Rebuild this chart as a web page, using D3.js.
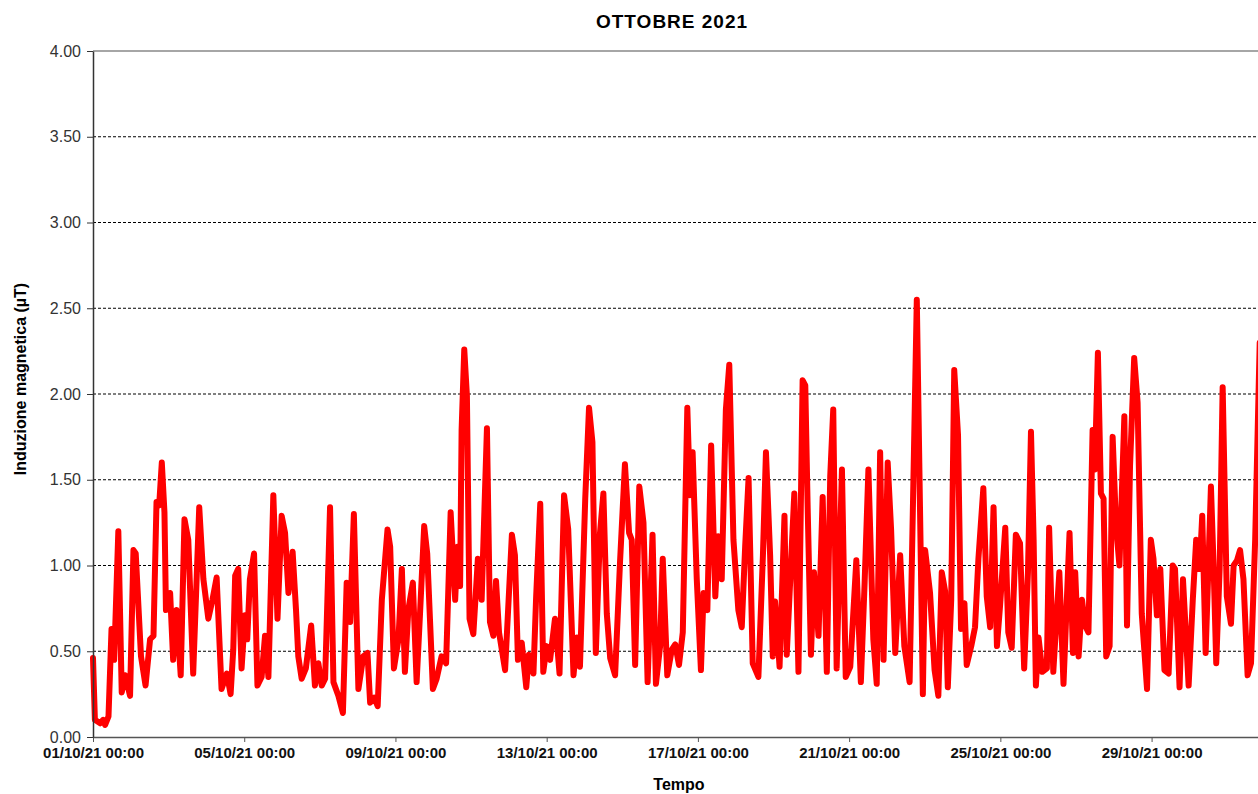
<!DOCTYPE html>
<html>
<head>
<meta charset="utf-8">
<script src="https://cdn.jsdelivr.net/npm/d3@7"></script>
<style>
  body { margin: 0; background: #fff; }
  text { font-family: "Liberation Sans", Arial, sans-serif; }
</style>
</head>
<body>
<div id="chart"></div>
<script>
// Time offsets in days since 01/10/21 00:00 and field values (µT)
const days = [
  0.00, 0.05, 0.19, 0.27, 0.32, 0.41, 0.49, 0.56, 0.67, 0.76, 0.85, 0.98, 1.07, 1.13, 1.27, 1.39,
  1.51, 1.60, 1.68, 1.75, 1.82, 1.89, 1.93, 2.04, 2.12, 2.21, 2.32, 2.42, 2.52, 2.65, 2.81, 2.92,
  3.05, 3.16, 3.27, 3.40, 3.54, 3.64, 3.71, 3.76, 3.84, 3.93, 4.02, 4.08, 4.15, 4.26, 4.35, 4.46,
  4.55, 4.64, 4.77, 4.88, 4.99, 5.08, 5.17, 5.28, 5.37, 5.43, 5.52, 5.63, 5.77, 5.87, 5.96, 6.05,
  6.14, 6.27, 6.36, 6.49, 6.61, 6.71, 6.80, 6.90, 7.02, 7.15, 7.26, 7.33, 7.44, 7.53, 7.64, 7.79,
  7.86, 7.96, 8.08, 8.17, 8.25, 8.34, 8.46, 8.56, 8.65, 8.76, 8.84, 8.99, 9.09, 9.22, 9.34, 9.46,
  9.58, 9.64, 9.71, 9.75, 9.82, 9.89, 9.96, 10.06, 10.18, 10.28, 10.42, 10.50, 10.59, 10.66, 10.74, 10.90,
  11.08, 11.16, 11.24, 11.34, 11.46, 11.53, 11.65, 11.72, 11.83, 11.91, 12.00, 12.09, 12.22, 12.34, 12.46, 12.57,
  12.71, 12.80, 12.88, 13.02, 13.12, 13.21, 13.30, 13.41, 13.50, 13.59, 13.68, 13.81, 13.94, 14.07, 14.18, 14.25,
  14.34, 14.45, 14.56, 14.67, 14.80, 14.89, 15.00, 15.07, 15.19, 15.31, 15.40, 15.50, 15.60, 15.72, 15.79, 15.86,
  15.97, 16.08, 16.15, 16.25, 16.35, 16.46, 16.54, 16.63, 16.74, 16.83, 16.94, 17.07, 17.16, 17.25, 17.34, 17.45,
  17.60, 17.72, 17.80, 17.91, 17.98, 18.04, 18.16, 18.29, 18.35, 18.46, 18.55, 18.66, 18.77, 18.84, 18.90, 18.99,
  19.07, 19.19, 19.30, 19.41, 19.50, 19.58, 19.67, 19.81, 19.91, 20.03, 20.19, 20.31, 20.41, 20.51, 20.64, 20.73,
  20.82, 20.91, 21.02, 21.11, 21.22, 21.35, 21.46, 21.60, 21.79, 21.95, 22.01, 22.14, 22.26, 22.36, 22.45, 22.54,
  22.61, 22.70, 22.78, 22.88, 22.96, 23.05, 23.11, 23.23, 23.33, 23.42, 23.55, 23.64, 23.73, 23.82, 23.91, 23.99,
  24.13, 24.21, 24.30, 24.41, 24.52, 24.63, 24.73, 24.81, 24.88, 24.94, 25.01, 25.11, 25.23, 25.29, 25.40, 25.56,
  25.67, 25.83, 25.92, 25.98, 26.07, 26.16, 26.24, 26.33, 26.44, 26.50, 26.58, 26.66, 26.73, 26.80, 26.89, 26.97,
  27.06, 27.15, 27.28, 27.35, 27.43, 27.54, 27.63, 27.74, 27.88, 27.98, 28.05, 28.14, 28.23, 28.34, 28.45, 28.56,
  28.62, 28.74, 28.83, 28.98, 29.09, 29.18, 29.27, 29.34, 29.43, 29.51, 29.57, 29.64, 29.71, 29.80, 29.88, 29.99,
  30.10, 30.17, 30.26, 30.34, 30.43, 30.54, 30.63, 30.74, 30.86
];
const values = [
  0.46, 0.10, 0.08, 0.10, 0.07, 0.12, 0.63, 0.45, 1.20, 0.26, 0.36, 0.24, 1.09, 1.07, 0.47, 0.30,
  0.57, 0.59, 1.37, 1.35, 1.60, 1.31, 0.74, 0.84, 0.45, 0.74, 0.36, 1.27, 1.15, 0.37, 1.34, 0.92,
  0.69, 0.80, 0.93, 0.28, 0.37, 0.25, 0.51, 0.94, 0.98, 0.40, 0.71, 0.57, 0.92, 1.07, 0.30, 0.35,
  0.59, 0.35, 1.41, 0.69, 1.29, 1.19, 0.84, 1.08, 0.74, 0.47, 0.34, 0.40, 0.65, 0.30, 0.43, 0.30,
  0.34, 1.34, 0.32, 0.24, 0.14, 0.90, 0.67, 1.30, 0.28, 0.47, 0.49, 0.20, 0.23, 0.18, 0.80, 1.21,
  1.11, 0.40, 0.57, 0.98, 0.38, 0.74, 0.90, 0.32, 0.72, 1.23, 1.07, 0.28, 0.34, 0.47, 0.43, 1.31,
  0.80, 1.11, 0.88, 1.79, 2.26, 1.99, 0.69, 0.60, 1.04, 0.80, 1.80, 0.67, 0.59, 0.91, 0.61, 0.39,
  1.18, 1.06, 0.45, 0.55, 0.29, 0.48, 0.37, 0.81, 1.36, 0.38, 0.53, 0.45, 0.69, 0.37, 1.41, 1.21,
  0.36, 0.58, 0.41, 1.39, 1.92, 1.72, 0.49, 1.19, 1.42, 0.72, 0.46, 0.36, 1.02, 1.59, 1.19, 1.15,
  0.42, 1.46, 1.25, 0.32, 1.18, 0.31, 0.53, 1.04, 0.36, 0.51, 0.54, 0.42, 0.61, 1.92, 1.41, 1.66,
  0.92, 0.39, 0.84, 0.74, 1.70, 0.82, 1.17, 0.92, 1.91, 2.17, 1.15, 0.74, 0.64, 1.11, 1.51, 0.43,
  0.35, 1.06, 1.66, 1.06, 0.47, 0.79, 0.41, 1.29, 0.48, 1.00, 1.42, 0.38, 2.08, 2.05, 1.37, 0.48,
  0.96, 0.59, 1.40, 0.38, 1.52, 1.91, 0.40, 1.56, 0.35, 0.41, 1.03, 0.32, 0.90, 1.56, 0.57, 0.31,
  1.66, 0.45, 1.60, 1.21, 0.49, 1.06, 0.53, 0.32, 2.55, 0.25, 1.09, 0.84, 0.39, 0.24, 0.96, 0.85,
  0.29, 0.80, 2.14, 1.76, 0.63, 0.78, 0.42, 0.53, 0.64, 1.04, 1.45, 0.82, 0.64, 1.34, 0.53, 0.76,
  1.22, 0.61, 0.52, 1.18, 1.13, 0.40, 0.96, 1.78, 1.15, 0.30, 0.58, 0.38, 0.40, 1.22, 0.38, 0.96,
  0.31, 1.19, 0.49, 0.96, 0.47, 0.80, 0.65, 0.61, 1.79, 1.56, 2.24, 1.42, 1.39, 0.47, 0.53, 1.75,
  1.23, 1.00, 1.87, 0.65, 1.58, 2.21, 1.95, 0.72, 0.28, 1.15, 1.04, 0.71, 0.98, 0.39, 0.37, 1.00,
  0.98, 0.29, 0.92, 0.30, 0.80, 1.15, 0.98, 1.29, 0.49, 1.04, 1.46, 1.00, 0.43, 0.98, 2.04, 0.82,
  0.66, 1.00, 1.03, 1.09, 0.92, 0.36, 0.43, 1.15, 2.30
];
const yTicks = [0, 0.5, 1, 1.5, 2, 2.5, 3, 3.5, 4];
const title = "OTTOBRE 2021";
const xLabel = "Tempo";
const yLabel = "Induzione magnetica (\u00b5T)";

const start = new Date(2021, 9, 1);
const end = new Date(2021, 10, 1);
const data = days.map((d, i) => ({ date: new Date(start.getTime() + d * 864e5), value: values[i] }));

// Tick dates every 4 days, 01/10 .. 29/10
const xTicks = d3.timeDay.every(4).range(start, end);

// Set the dimensions and margins of the graph
const W = 1258, H = 794;
const margin = { top: 51, left: 93, bottom: 57 };
const width = 1172, height = H - margin.top - margin.bottom;

const svg = d3.select("#chart")
    .append("svg")
    .attr("width", W)
    .attr("height", H)
    .style("display", "block");

const g = svg.append("g")
    .attr("transform", `translate(${margin.left},${margin.top})`);

// Scales
const x = d3.scaleTime().domain([start, end]).range([0, width]);
const y = d3.scaleLinear().domain([0, 4]).range([height, 0]);

// Grid lines
g.selectAll(".grid")
    .data(yTicks.filter(d => d > 0 && d < 4))
    .enter().append("line")
    .attr("x1", 0).attr("x2", width)
    .attr("y1", d => y(d)).attr("y2", d => y(d))
    .attr("stroke", "#000")
    .attr("stroke-width", 1)
    .attr("stroke-dasharray", "3,2");

// top border
g.append("line")
    .attr("x1", 0).attr("x2", width)
    .attr("y1", y(4)).attr("y2", y(4))
    .attr("stroke", "#888")
    .attr("stroke-width", 1.5);

// Line
const line = d3.line()
    .x(d => x(d.date))
    .y(d => y(d.value));

g.append("path")
    .datum(data)
    .attr("fill", "none")
    .attr("stroke", "#ff0000")
    .attr("stroke-width", 6)
    .attr("stroke-linejoin", "round")
    .attr("stroke-linecap", "round")
    .attr("d", line);

// X axis
const xAxis = g.append("g")
    .attr("transform", `translate(0,${height})`)
    .call(d3.axisBottom(x)
        .tickValues(xTicks)
        .tickFormat(d3.timeFormat("%d/%m/%y %H:%M"))
        .tickSize(5)
        .tickSizeOuter(0));
xAxis.select(".domain").attr("stroke", "#555").attr("stroke-width", 1.5);
xAxis.selectAll(".tick line").attr("stroke", "#555");
xAxis.selectAll(".tick text")
    .attr("y", 10)
    .style("font-size", "15px")
    .style("font-weight", "bold")
    .attr("fill", "#111");

// Y axis
const yAxis = g.append("g")
    .call(d3.axisLeft(y)
        .tickValues(yTicks)
        .tickFormat(d3.format(".2f"))
        .tickSize(6)
        .tickSizeOuter(0));
yAxis.select(".domain").attr("stroke", "#333").attr("stroke-width", 1.5);
yAxis.selectAll(".tick line").attr("stroke", "#333");
yAxis.selectAll(".tick text")
    .attr("x", -12)
    .style("font-size", "16px")
    .attr("fill", "#333");

// Title and axis labels
svg.append("text")
    .attr("x", 672).attr("y", 28)
    .attr("text-anchor", "middle")
    .style("font-size", "19px")
    .style("font-weight", "bold")
    .style("letter-spacing", "1px")
    .text(title);

svg.append("text")
    .attr("x", 679).attr("y", 790)
    .attr("text-anchor", "middle")
    .style("font-size", "16px")
    .style("font-weight", "bold")
    .text(xLabel);

svg.append("text")
    .attr("transform", "translate(26,379) rotate(-90)")
    .attr("text-anchor", "middle")
    .style("font-size", "16px")
    .style("font-weight", "bold")
    .text(yLabel);
</script>
</body>
</html>
